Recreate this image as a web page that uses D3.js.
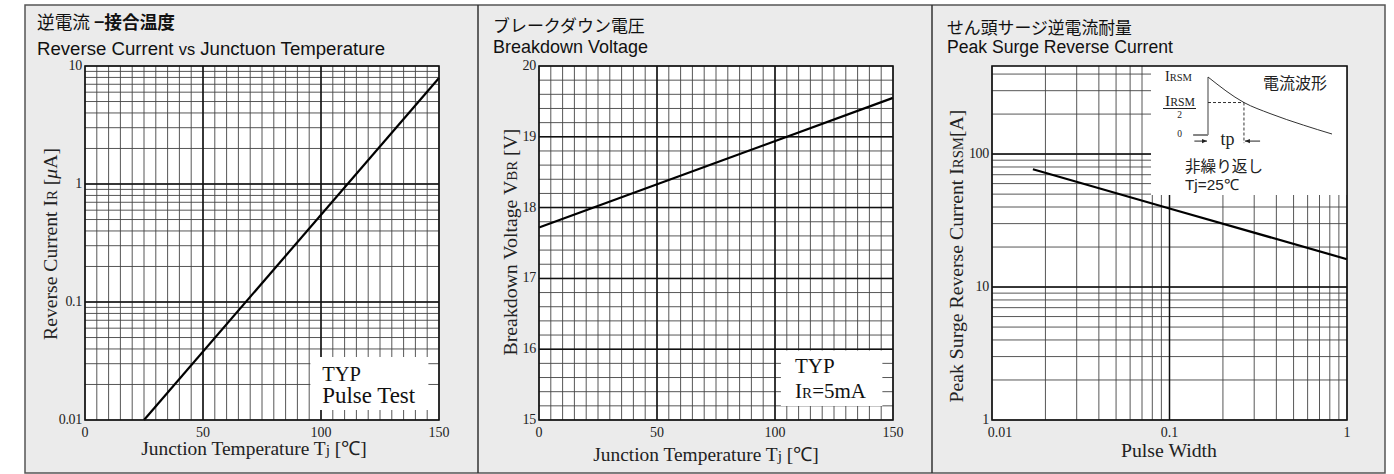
<!DOCTYPE html>
<html><head><meta charset="utf-8">
<script src="https://cdn.jsdelivr.net/npm/d3@7"></script>
<style>body{margin:0;background:#fff} svg{display:block}</style>
</head><body>
<svg id="c" width="1394" height="474"></svg>
<script>
// ---- Panel 1: Reverse current vs junction temperature
const tempDomain = [0, 150];
const tempTicks = [0, 50, 100, 150];
const tempMajor = [50, 100];
const irDomain = [0.01, 10];
const irTicks = [0.01, 0.1, 1, 10];
const irTickLabels = ["0.01", "0.1", "1", "10"];
const irMajor = [0.1, 1];
const irTemp = [25, 150];
const irValue = [0.01, 7.9];
// ---- Panel 2: Breakdown voltage
const vbrDomain = [15, 20];
const vbrTicks = [15, 16, 17, 18, 19, 20];
const vbrMajor = [16, 17, 18, 19];
const vbrTemp = [0, 150];
const vbrValue = [17.72, 19.55];
// ---- Panel 3: Peak surge reverse current
const pwDomain = [0.01, 1];
const pwTicks = [0.01, 0.1, 1];
const pwTickLabels = ["0.01", "0.1", "1"];
const pwMajor = [0.1];
const irsmDomain = [1, 460];
const irsmTicks = [1, 10, 100];
const irsmTickLabels = ["1", "10", "100"];
const irsmMajor = [10, 100];
const pulseWidth = [0.017, 0.1, 1];
const irsmValue = [77, 39, 16.2];
// inset waveform (normalised time / amplitude)
const waveT = [0, 0.29, 0.5, 0.77, 1];
const waveA = [1, 0.56, 0.37, 0.17, 0.017];

const SERIF = "'Liberation Serif','Times New Roman',serif";
const SANS = "'Liberation Sans',Arial,sans-serif";
const CJK = "'Noto Sans CJK JP','Noto Sans CJK SC',sans-serif";

const svg = d3.select('#c');
svg.append('rect').attr('width', 1394).attr('height', 474).attr('fill', '#fff');
svg.append('rect').attr('x', 25).attr('y', 5).attr('width', 1360).attr('height', 468)
  .attr('fill', '#ebebeb').attr('stroke', '#555').attr('stroke-width', 1.5);
[478, 932].forEach(x => svg.append('line').attr('x1', x).attr('x2', x).attr('y1', 5).attr('y2', 473)
  .attr('stroke', '#333').attr('stroke-width', 1.5));

function fit(sel, target) {
  const l = sel.node().getComputedTextLength();
  const fs = parseFloat(sel.attr('font-size'));
  sel.attr('font-size', (fs * target / l).toFixed(2));
  return sel;
}

function panel(o) {
  const g = svg.append('g');
  const [l, r] = o.x.range(), [b, t] = o.y.range();
  g.append('rect').attr('x', l).attr('y', t).attr('width', r - l).attr('height', b - t).attr('fill', '#fff');
  const grid = g.append('g');
  o.xMinor.forEach(v => grid.append('line').attr('x1', o.x(v)).attr('x2', o.x(v)).attr('y1', t).attr('y2', b)
    .attr('stroke', '#444').attr('stroke-width', 0.9));
  o.yMinor.forEach(v => grid.append('line').attr('y1', o.y(v)).attr('y2', o.y(v)).attr('x1', l).attr('x2', r)
    .attr('stroke', '#444').attr('stroke-width', 0.9));
  o.xMajor.forEach(v => grid.append('line').attr('x1', o.x(v)).attr('x2', o.x(v)).attr('y1', t).attr('y2', b)
    .attr('stroke', '#111').attr('stroke-width', 1.5));
  o.yMajor.forEach(v => grid.append('line').attr('y1', o.y(v)).attr('y2', o.y(v)).attr('x1', l).attr('x2', r)
    .attr('stroke', '#111').attr('stroke-width', 1.5));
  // tick labels
  o.xTicks.forEach((v, i) => g.append('text').attr('x', o.x(v) + (o.xShift ? o.xShift[i] : 0)).attr('y', b + 16.5)
    .attr('text-anchor', 'middle').attr('font-family', SERIF).attr('font-size', 14).attr('fill', '#222')
    .text(o.xLabels ? o.xLabels[i] : v));
  o.yTicks.forEach((v, i) => g.append('text').attr('x', l - 3).attr('y', o.y(v) + 4)
    .attr('text-anchor', 'end').attr('font-family', SERIF).attr('font-size', 14).attr('fill', '#222')
    .attr('letter-spacing', -0.3)
    .text(o.yLabels ? o.yLabels[i] : v));
  return {g, l, r, t, b};
}

function frame(p) {
  p.g.append('rect').attr('x', p.l).attr('y', p.t).attr('width', p.r - p.l).attr('height', p.b - p.t)
    .attr('fill', 'none').attr('stroke', '#111').attr('stroke-width', 1.6);
}

function titles(x, b1, t1, w1, b2, w2, build2) {
  const a = svg.append('text').attr('x', x).attr('y', b1).attr('font-family', CJK).attr('font-size', 16).attr('fill', '#111');
  t1(a); fit(a, w1);
  const c = svg.append('text').attr('x', x).attr('y', b2).attr('font-family', SANS).attr('font-size', 17).attr('fill', '#111');
  build2(c); fit(c, w2);
}

// ================= Panel 1 =================
const x1 = d3.scaleLinear(tempDomain, [85, 439]);
const y1 = d3.scaleLog(irDomain, [420, 66]);
const p1 = panel({x: x1, y: y1, xMinor: d3.range(0, 151, 5), yMinor: y1.ticks(), xMajor: tempMajor, yMajor: irMajor,
  xTicks: tempTicks, yTicks: irTicks, yLabels: irTickLabels});
p1.g.append('rect').attr('x', x1(95.5)).attr('y', 357).attr('width', x1(145.5) - x1(95.5)).attr('height', 53).attr('fill', '#fff');
p1.g.append('text').attr('x', x1(100.5)).attr('y', 380.5).attr('font-family', SERIF).attr('font-size', 20.5).attr('fill', '#111').text('TYP');
fit(p1.g.append('text').attr('x', x1(100.5)).attr('y', 403).attr('font-family', SERIF).attr('font-size', 20.5).attr('fill', '#111').text('Pulse Test'), 93);
p1.g.append('path').datum(irTemp.map((t, i) => [t, irValue[i]]))
  .attr('d', d3.line().x(d => x1(d[0])).y(d => y1(d[1]))).attr('fill', 'none').attr('stroke', '#000').attr('stroke-width', 2.2);
frame(p1);
titles(37, 29, s => { s.append('tspan').text('逆電流 '); s.append('tspan').attr('font-weight', 'bold').text('−接合温度'); }, 138,
  55, 348, s => { s.append('tspan').text('Reverse Current '); s.append('tspan').attr('font-size', '0.88em').text('vs'); s.append('tspan').text(' Junctuon Temperature'); });
{
  const t = svg.append('text').attr('x', 254).attr('y', 454.5).attr('text-anchor', 'middle').attr('font-family', SERIF).attr('font-size', 19).attr('fill', '#222');
  t.append('tspan').text('Junction Temperature T'); t.append('tspan').attr('font-size', '0.8em').text('j'); t.append('tspan').text(' [℃]');
  fit(t, 226);
  const yl = svg.append('text').attr('transform', 'translate(57,244) rotate(-90)').attr('text-anchor', 'middle').attr('font-family', SERIF).attr('font-size', 19).attr('fill', '#222');
  yl.append('tspan').text('Reverse Current  I'); yl.append('tspan').attr('font-size', '0.75em').text('R'); yl.append('tspan').text(' ['); yl.append('tspan').attr('font-style', 'italic').text('μ'); yl.append('tspan').text('A]');
  fit(yl, 192);
}

// ================= Panel 2 =================
const x2 = d3.scaleLinear(tempDomain, [539, 893]);
const y2 = d3.scaleLinear(vbrDomain, [420, 66]);
const p2 = panel({x: x2, y: y2, xMinor: d3.range(0, 151, 5), yMinor: d3.range(150, 201, 2).map(v => v / 10), xMajor: tempMajor, yMajor: vbrMajor,
  xTicks: tempTicks, yTicks: vbrTicks});
p2.g.append('rect').attr('x', x2(102.5)).attr('y', 350.5).attr('width', x2(145.5) - x2(102.5)).attr('height', 55.5).attr('fill', '#fff');
p2.g.append('text').attr('x', x2(108.5)).attr('y', 373).attr('font-family', SERIF).attr('font-size', 21).attr('fill', '#111').text('TYP');
{
  const t = p2.g.append('text').attr('x', x2(108.5)).attr('y', 398).attr('font-family', SERIF).attr('font-size', 21).attr('fill', '#111');
  t.append('tspan').text('I'); t.append('tspan').attr('font-size', '0.72em').text('R'); t.append('tspan').text('=5mA');
}
p2.g.append('path').datum(vbrTemp.map((t, i) => [t, vbrValue[i]]))
  .attr('d', d3.line().x(d => x2(d[0])).y(d => y2(d[1]))).attr('fill', 'none').attr('stroke', '#000').attr('stroke-width', 2.2);
frame(p2);
titles(493, 31.5, s => s.text('ブレークダウン電圧'), 152, 53, 155, s => s.text('Breakdown Voltage'));
{
  const t = svg.append('text').attr('x', 706).attr('y', 461).attr('text-anchor', 'middle').attr('font-family', SERIF).attr('font-size', 19).attr('fill', '#222');
  t.append('tspan').text('Junction Temperature T'); t.append('tspan').attr('font-size', '0.8em').text('j'); t.append('tspan').text(' [℃]');
  fit(t, 226);
  const yl = svg.append('text').attr('transform', 'translate(517,242) rotate(-90)').attr('text-anchor', 'middle').attr('font-family', SERIF).attr('font-size', 19).attr('fill', '#222');
  yl.append('tspan').text('Breakdown Voltage V'); yl.append('tspan').attr('font-size', '0.75em').text('BR'); yl.append('tspan').text('  [V]');
  fit(yl, 227);
}

// ================= Panel 3 =================
const x3 = d3.scaleLog(pwDomain, [992, 1347]);
const y3 = d3.scaleLog(irsmDomain, [420, 66]);
const p3 = panel({x: x3, y: y3, xMinor: x3.ticks(), yMinor: y3.ticks(), xMajor: pwMajor, yMajor: irsmMajor,
  xTicks: pwTicks, xLabels: pwTickLabels, xShift: [8, 0, 0], yTicks: irsmTicks, yLabels: irsmTickLabels});
// inset
{
  const ib = {l: 1151, t: 66, r: 1347, b: 195};
  const g = p3.g.append('g');
  g.append('rect').attr('x', ib.l).attr('y', ib.t).attr('width', ib.r - ib.l).attr('height', ib.b - ib.t).attr('fill', '#fff');
  const wx = d3.scaleLinear([0, 1], [1208, 1332]);
  const wy = d3.scaleLinear([0, 1], [135, 77]);
  g.append('line').attr('x1', wx(-0.12)).attr('x2', wx(0)).attr('y1', wy(0)).attr('y2', wy(0)).attr('stroke', '#333').attr('stroke-width', 1.2);
  g.append('line').attr('x1', wx(0)).attr('x2', wx(0)).attr('y1', wy(0)).attr('y2', wy(1)).attr('stroke', '#888').attr('stroke-width', 1.6);
  g.append('path').datum(waveT.map((t, i) => [t, waveA[i]]))
    .attr('d', d3.line().curve(d3.curveMonotoneX).x(d => wx(d[0])).y(d => wy(d[1]))).attr('fill', 'none').attr('stroke', '#333').attr('stroke-width', 1);
  g.append('line').attr('x1', wx(0)).attr('x2', wx(waveT[1])).attr('y1', wy(waveA[1])).attr('y2', wy(waveA[1]))
    .attr('stroke', '#333').attr('stroke-width', 1).attr('stroke-dasharray', '3,2');
  g.append('line').attr('x1', wx(waveT[1])).attr('x2', wx(waveT[1])).attr('y1', wy(waveA[1])).attr('y2', wy(-0.14))
    .attr('stroke', '#333').attr('stroke-width', 1).attr('stroke-dasharray', '3,2');
  // arrows
  const ay = wy(-0.105);
  function arrow(xa, xb) {
    g.append('line').attr('x1', xa).attr('x2', xb).attr('y1', ay).attr('y2', ay).attr('stroke', '#222').attr('stroke-width', 1);
    const d = Math.sign(xb - xa);
    g.append('path').attr('d', `M${xb},${ay} L${xb - d * 5},${ay - 2.2} L${xb - d * 5},${ay + 2.2} Z`).attr('fill', '#222');
  }
  arrow(wx(-0.11), wx(0) - 1);
  arrow(wx(0.42), wx(waveT[1]) + 1);
  g.append('text').attr('x', wx(0.1)).attr('y', 145).attr('font-family', SERIF).attr('font-size', 18).attr('fill', '#222').text('tp');
  const il = g.append('text').attr('x', 1165).attr('y', 81).attr('font-family', SERIF).attr('font-size', 12).attr('fill', '#222');
  il.append('tspan').text('I'); il.append('tspan').attr('font-size', '0.75em').text('RSM'); fit(il, 27);
  const il2 = g.append('text').attr('x', 1165).attr('y', 106).attr('font-family', SERIF).attr('font-size', 12).attr('fill', '#222');
  il2.append('tspan').text('I'); il2.append('tspan').attr('font-size', '0.75em').text('RSM'); fit(il2, 30);
  g.append('line').attr('x1', 1163).attr('x2', 1196).attr('y1', 108.5).attr('y2', 108.5).attr('stroke', '#222').attr('stroke-width', 1);
  g.append('text').attr('x', 1179.5).attr('y', 118).attr('text-anchor', 'middle').attr('font-family', SERIF).attr('font-size', 9.5).attr('fill', '#222').text('2');
  g.append('text').attr('x', 1179.5).attr('y', 137).attr('text-anchor', 'middle').attr('font-family', SERIF).attr('font-size', 9.5).attr('fill', '#222').text('0');
  fit(g.append('text').attr('x', 1263).attr('y', 89).attr('font-family', CJK).attr('font-size', 16).attr('fill', '#222').text('電流波形'), 64);
  fit(g.append('text').attr('x', 1185).attr('y', 171.5).attr('font-family', CJK).attr('font-size', 16).attr('fill', '#222').text('非繰り返し'), 78);
  fit(g.append('text').attr('x', 1185).attr('y', 190).attr('font-family', SANS).attr('font-size', 15).attr('fill', '#222').text('Tj=25℃'), 54);
}
p3.g.append('path').datum(pulseWidth.map((t, i) => [t, irsmValue[i]]))
  .attr('d', d3.line().x(d => x3(d[0])).y(d => y3(d[1]))).attr('fill', 'none').attr('stroke', '#000').attr('stroke-width', 2.2);
frame(p3);
titles(947, 33.5, s => s.text('せん頭サージ逆電流耐量'), 185, 53, 226, s => s.text('Peak Surge Reverse Current'));
{
  const t = svg.append('text').attr('x', 1169).attr('y', 457).attr('text-anchor', 'middle').attr('font-family', SERIF).attr('font-size', 19).attr('fill', '#222').text('Pulse Width');
  fit(t, 96);
  const yl = svg.append('text').attr('transform', 'translate(963,256) rotate(-90)').attr('text-anchor', 'middle').attr('font-family', SERIF).attr('font-size', 19).attr('fill', '#222');
  yl.append('tspan').text('Peak Surge Reverse Current  I'); yl.append('tspan').attr('font-size', '0.75em').text('RSM'); yl.append('tspan').text('[A]');
  fit(yl, 293);
}
</script>
</body></html>
